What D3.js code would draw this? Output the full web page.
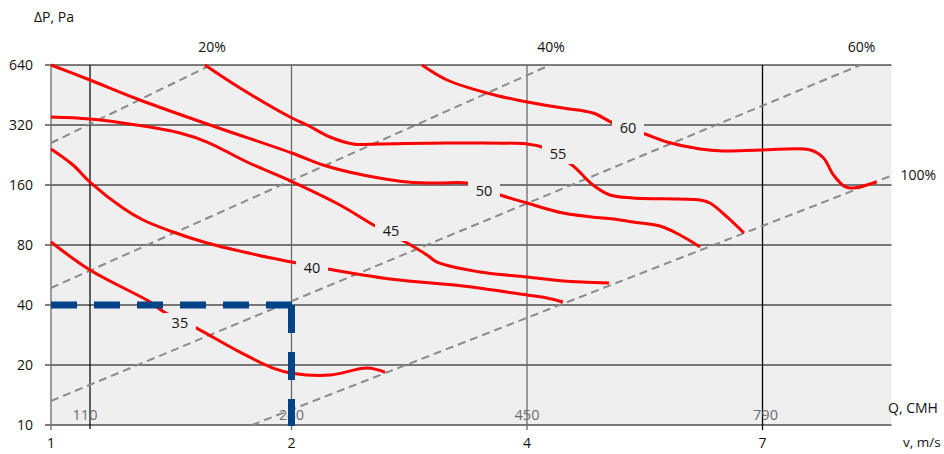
<!DOCTYPE html>
<html><head><meta charset="utf-8">
<script src="https://cdn.jsdelivr.net/npm/d3@7"></script>
<style>
body{margin:0;background:#fff;}
svg{display:block;font-family:"Open Sans",sans-serif;}
</style></head><body>
<svg id="chart" width="944" height="454"></svg>
<script>
// ---------- data ----------
const velocityTicks = [1, 2, 4, 7];
const flowTicks = [110, 240, 450, 790];
const pressureTicks = [10, 20, 40, 80, 160, 320, 640];
const percentLabels = ["20%", "40%", "60%", "100%"];
// system (damper opening) lines: [v, ΔP] endpoints
const system20 = [[1, 259.9], [1.665, 640]];
const system40 = [[1, 48.7], [4.293, 640]];
const system60 = [[1, 13.2], [8.248, 640]];
const system100 = [[1.836, 10], [8.631, 177.5]];
// noise level contours [v, ΔP]
const noiseLevels = [35, 40, 45, 50, 55, 60];
const curve35 = [[1,82.8],[1.162,59.9],[1.412,41.4],[1.470,36.9],[1.603,30.7],[1.786,23.2],[1.923,19.3],[2.004,18.2],[2.327,17.8],[2.641,19.3],[2.794,18.4]];
const curve40 = [[1,242.5],[1.0915,201.6],[1.162,165.6],[1.299,122.7],[1.383,106.8],[1.507,93.0],[1.649,81.9],[1.857,71.3],[2.004,65.7],[2.310,60.6],[2.837,54.0],[3.456,49.8],[4,44.9],[4.255,43.4],[4.459,41.4]];
const curve45 = [[1,351],[1.162,343],[1.370,318],[1.536,291.7],[1.649,262.9],[1.815,208.7],[2.013,165.6],[2.412,127.0],[2.667,103.2],[2.938,84.8],[3.151,71.3],[3.236,65.7],[3.601,58.6],[4,55.3],[4.459,52.8],[5.045,51.6]];
const curve50 = [[1,640],[1.162,538.2],[1.370,427.1],[1.661,320],[2.002,231.6],[2.268,201.6],[2.607,179.6],[3.032,164.5],[3.261,163.7],[3.490,163.7],[3.771,142.5],[4,130.0],[4.459,115.8],[5.185,106.8],[5.350,104.4],[5.694,99.6],[5.949,89.8],[6.204,78.2]];
const curve55 = [[1.640,640],[1.786,490.7],[2.004,346.9],[2.132,320],[2.327,278.6],[2.522,257.0],[2.752,257.0],[3.321,259.9],[4,257.0],[4.191,248.2],[4.573,201.6],[4.841,160],[5.057,142.5],[5.350,137.7],[6.204,134.5],[6.331,130.0],[6.548,110.6],[6.764,91.9]];
const curve60 = [[3.108,640],[3.321,538.2],[3.660,463.2],[4,417.4],[4.459,389.4],[4.841,367.6],[5.096,327.5],[5.503,288.4],[5.783,263.0],[6.204,242.5],[6.497,237.0],[6.994,239.7],[7.611,239.7],[7.777,218.6],[7.904,179.6],[8.057,156.4],[8.159,154.5],[8.452,165.6]];
const labelPositions = [[1.536,32.5],[2.174,61.3],[2.845,94.0],[3.635,149.3],[4.395,228.9],[5.287,309.1]];
const operatingV = 2, operatingP = 40;

// ---------- layout ----------
const L = 51, R = 891.5, T = 65, B = 425;
const svg = d3.select("#chart");
const x = d3.scaleLinear().domain(velocityTicks).range([L, 291.5, 527, 762.5]);
const xq = d3.scaleLinear().domain(flowTicks).range([90, 291.5, 527, 762.5]);
const y = d3.scaleLog().base(2).domain([10, 640]).range([B, T]);

svg.append("rect").attr("x", L).attr("y", T).attr("width", R - L).attr("height", B - T).attr("fill", "#efefef");

// horizontal grid + y ticks
svg.append("g").selectAll("line").data(pressureTicks).join("line")
  .attr("x1", L - 6).attr("x2", R).attr("y1", d => y(d)).attr("y2", d => y(d))
  .attr("stroke", "#000").attr("stroke-width", 1.2);
svg.append("g").selectAll("text").data(pressureTicks).join("text")
  .attr("x", 33).attr("y", d => y(d) + 5).attr("text-anchor", "end")
  .attr("font-size", 14).attr("fill", "#111").text(d => d);

// vertical grid
svg.append("line").attr("x1", xq(flowTicks[0])).attr("x2", xq(flowTicks[0])).attr("y1", T).attr("y2", B + 4)
  .attr("stroke", "#000").attr("stroke-width", 1.2);
svg.append("g").selectAll("line").data(velocityTicks).join("line")
  .attr("x1", d => x(d)).attr("x2", d => x(d)).attr("y1", T).attr("y2", B + 5)
  .attr("stroke", (d, i) => i === velocityTicks.length - 1 ? "#000" : "#6a6a6a").attr("stroke-width", 1.3);
svg.append("g").selectAll("text").data(velocityTicks).join("text")
  .attr("x", d => x(d)).attr("y", 448).attr("text-anchor", "middle")
  .attr("font-size", 14).attr("fill", "#111").text(d => d);
svg.append("g").selectAll("text").data(flowTicks).join("text")
  .attr("x", (d, i) => xq(d) + (i === 0 ? -5 : (i === 3 ? 3 : 0))).attr("y", 420).attr("text-anchor", "middle")
  .attr("font-size", 14.5).attr("fill", "#6e6e6e").text(d => d);

// axis titles
svg.append("text").attr("x", 34).attr("y", 22).attr("font-size", 14).attr("fill", "#111").text("ΔP, Pa");
svg.append("text").attr("x", 888).attr("y", 413).attr("font-size", 14).attr("fill", "#111").text("Q, CMH");
svg.append("text").attr("x", 903).attr("y", 447).attr("font-size", 13.5).attr("fill", "#111").text("v, m/s");

// system lines
const systems = [system20, system40, system60, system100];
const straight = d3.line().x(d => x(d[0])).y(d => y(d[1]));
svg.append("g").selectAll("path").data(systems).join("path")
  .attr("d", straight).attr("fill", "none").attr("stroke", "#8a8a8a")
  .attr("stroke-width", 2).attr("stroke-dasharray", "8,5");
svg.append("g").selectAll("text").data(systems).join("text")
  .each(function (d, i) {
    const end = d[d.length - 1];
    const t = d3.select(this);
    if (end[1] >= 640) {
      t.attr("x", x(end[0]) + 1).attr("y", T - 13).attr("text-anchor", "middle");
    } else {
      t.attr("x", x(end[0]) + 10).attr("y", y(end[1]) + 4).attr("text-anchor", "start");
    }
  })
  .attr("font-size", 14).attr("fill", "#111").text((d, i) => percentLabels[i]);

// noise contours
const curves = [curve35, curve40, curve45, curve50, curve55, curve60];
const smooth = d3.line().x(d => x(d[0])).y(d => y(d[1])).curve(d3.curveCatmullRom.alpha(0.5));
svg.append("g").selectAll("path").data(curves).join("path")
  .attr("d", smooth).attr("fill", "none").attr("stroke", "#ff0000")
  .attr("stroke-width", 3).attr("stroke-linejoin", "round");

// contour labels with background gaps
const lab = svg.append("g").selectAll("g").data(noiseLevels).join("g")
  .attr("transform", (d, i) => `translate(${x(labelPositions[i][0])},${y(labelPositions[i][1])})`);
lab.append("rect").attr("x", -16).attr("y", -10).attr("width", 32).attr("height", 20).attr("fill", "#efefef");
lab.append("text").attr("y", 5).attr("text-anchor", "middle").attr("font-size", 14.5).attr("fill", "#111").text(d => d);

// operating point guide
svg.append("line").attr("x1", L).attr("x2", x(operatingV) + 2).attr("y1", y(operatingP)).attr("y2", y(operatingP))
  .attr("stroke", "#004387").attr("stroke-width", 7).attr("stroke-dasharray", "26,17");
svg.append("line").attr("x1", x(operatingV)).attr("x2", x(operatingV)).attr("y1", y(operatingP)).attr("y2", B + 1)
  .attr("stroke", "#004387").attr("stroke-width", 7).attr("stroke-dasharray", "28,19");
</script>
</body></html>
